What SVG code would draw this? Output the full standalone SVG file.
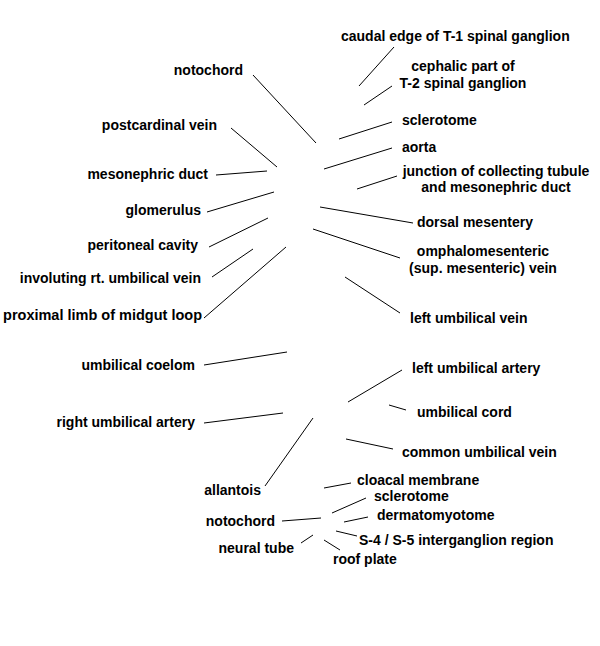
<svg xmlns="http://www.w3.org/2000/svg" width="600" height="646" viewBox="0 0 600 646">
<style>
text{font-family:"Liberation Sans",Arial,sans-serif;font-weight:bold;font-size:14px;fill:#000}
.e{text-anchor:end}
.m{text-anchor:middle}
#connectors line{stroke:#000;stroke-width:1}
</style>
<rect width="600" height="646" fill="#fff"/>
<g id="connectors">
<line x1="394" y1="47" x2="359" y2="86"/>
<line x1="392" y1="86" x2="364" y2="105"/>
<line x1="253" y1="75" x2="316" y2="143"/>
<line x1="392" y1="122" x2="339" y2="139"/>
<line x1="231" y1="128" x2="277" y2="167"/>
<line x1="392" y1="148" x2="324" y2="169"/>
<line x1="397" y1="176" x2="357" y2="189"/>
<line x1="216" y1="175" x2="267" y2="171"/>
<line x1="207" y1="212" x2="274" y2="192"/>
<line x1="320" y1="207" x2="413" y2="223"/>
<line x1="209" y1="247" x2="268" y2="218"/>
<line x1="313" y1="229" x2="400" y2="258"/>
<line x1="212" y1="277" x2="253" y2="249"/>
<line x1="204" y1="318" x2="286" y2="247"/>
<line x1="345" y1="277" x2="400" y2="313"/>
<line x1="204" y1="365" x2="287" y2="352"/>
<line x1="402" y1="370" x2="348" y2="402"/>
<line x1="389" y1="405" x2="406" y2="410"/>
<line x1="204" y1="423" x2="283" y2="413"/>
<line x1="346" y1="439" x2="393" y2="449"/>
<line x1="265" y1="486" x2="313" y2="418"/>
<line x1="324" y1="488" x2="351" y2="483"/>
<line x1="332" y1="513" x2="366" y2="498"/>
<line x1="282" y1="521" x2="321" y2="518"/>
<line x1="344" y1="522" x2="368" y2="517"/>
<line x1="336" y1="531" x2="357" y2="536"/>
<line x1="301" y1="543" x2="313" y2="535"/>
<line x1="324" y1="540" x2="340" y2="550"/>
</g>
<g id="n-caudal-edge"><text x="341" y="41">caudal edge of T-1 spinal ganglion</text></g>
<g id="n-cephalic"><text class="m" x="463" y="71">cephalic part of</text><text class="m" x="463" y="88">T-2 spinal ganglion</text></g>
<g id="n-notochord"><text class="e" x="243" y="75">notochord</text></g>
<g id="n-sclerotome"><text x="402" y="125">sclerotome</text></g>
<g id="n-postcardinal"><text class="e" x="217" y="130">postcardinal vein</text></g>
<g id="n-aorta"><text x="402" y="152">aorta</text></g>
<g id="n-junction"><text class="m" x="496" y="176">junction of collecting tubule</text><text class="m" x="496" y="192">and mesonephric duct</text></g>
<g id="n-mesonephric"><text class="e" x="208" y="179">mesonephric duct</text></g>
<g id="n-glomerulus"><text class="e" x="201" y="215">glomerulus</text></g>
<g id="n-dorsal"><text x="417" y="227">dorsal mesentery</text></g>
<g id="n-peritoneal"><text class="e" x="198" y="250">peritoneal cavity</text></g>
<g id="n-omphalo"><text class="m" x="483" y="256">omphalomesenteric</text><text class="m" x="483" y="273">(sup. mesenteric) vein</text></g>
<g id="n-involuting"><text class="e" x="201" y="283">involuting rt. umbilical vein</text></g>
<g id="n-proximal"><text class="e" x="202" y="320" style="font-size:14.5px">proximal limb of midgut loop</text></g>
<g id="n-left-umb-vein"><text x="410" y="323">left umbilical vein</text></g>
<g id="n-umb-coelom"><text class="e" x="195" y="370">umbilical coelom</text></g>
<g id="n-left-umb-artery"><text x="412" y="373">left umbilical artery</text></g>
<g id="n-umb-cord"><text x="417" y="417">umbilical cord</text></g>
<g id="n-right-umb-artery"><text class="e" x="195" y="427">right umbilical artery</text></g>
<g id="n-common-umb-vein"><text x="402" y="457">common umbilical vein</text></g>
<g id="n-cloacal"><text x="357" y="485">cloacal membrane</text></g>
<g id="n-allantois"><text class="e" x="261" y="495">allantois</text></g>
<g id="n-sclerotome2"><text x="374" y="501">sclerotome</text></g>
<g id="n-dermatomyotome"><text x="377" y="520">dermatomyotome</text></g>
<g id="n-notochord2"><text class="e" x="275" y="526">notochord</text></g>
<g id="n-s4s5"><text x="359" y="545">S-4 / S-5 interganglion region</text></g>
<g id="n-neural-tube"><text class="e" x="294" y="553">neural tube</text></g>
<g id="n-roof-plate"><text x="333" y="564">roof plate</text></g>
</svg>
